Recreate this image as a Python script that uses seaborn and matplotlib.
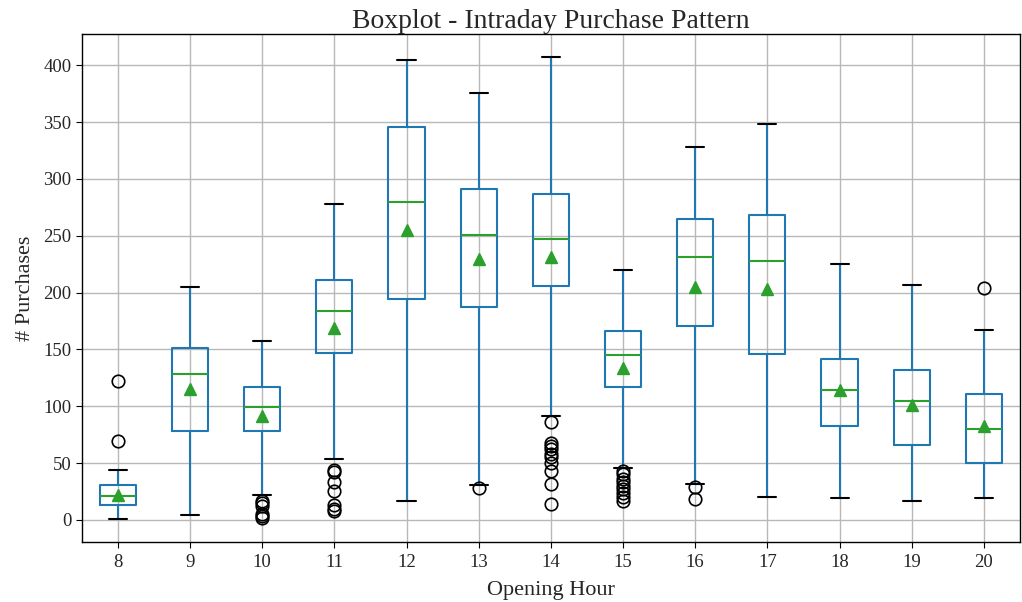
import matplotlib
matplotlib.use("Agg")
import matplotlib.pyplot as plt
import seaborn as sns

hours = [8, 9, 10, 11, 12, 13, 14, 15, 16, 17, 18, 19, 20]
whislo = [1, 4, 22, 54, 17, 31, 91, 46, 32, 20, 19, 17, 19]
q1 = [13, 78, 78, 147, 194, 187, 206, 117, 171, 146, 83, 66, 50]
median = [21, 128, 99, 184, 280, 251, 247, 145, 231, 228, 114, 105, 80]
q3 = [31, 151, 117, 211, 346, 291, 287, 166, 265, 268, 142, 132, 111]
whishi = [44, 205, 157, 278, 405, 376, 407, 220, 328, 348, 225, 207, 167]
mean = [22, 115, 91, 169, 255, 230, 231, 134, 205, 203, 114, 101, 83]
fliers = [
    [69, 122],
    [],
    [17, 15, 12, 5, 3, 2],
    [44, 42, 33, 25, 13, 10, 8],
    [],
    [28],
    [86, 68, 65, 62, 58, 55, 50, 43, 32, 14],
    [43, 40, 36, 33, 30, 27, 24, 20, 17],
    [29, 18],
    [],
    [],
    [],
    [204],
]

sns.set_style("whitegrid", {"axes.edgecolor": "black", "grid.color": "#b0b0b0",
                            "xtick.bottom": True, "ytick.left": True})
plt.rcParams["font.family"] = ["Liberation Serif", "DejaVu Serif"]
plt.rcParams["axes.linewidth"] = 1.0

fig, ax = plt.subplots(figsize=(10.22, 6.02), dpi=100)
fig.subplots_adjust(left=0.080, right=0.998, top=0.943, bottom=0.100)

stats = []
for i, h in enumerate(hours):
    stats.append(dict(label=str(h), whislo=whislo[i], q1=q1[i], med=median[i],
                      q3=q3[i], whishi=whishi[i], mean=mean[i], fliers=fliers[i]))

blue = "#1f77b4"
green = "#2ca02c"
ax.bxp(stats, positions=range(1, len(hours) + 1), widths=0.5, showmeans=True,
       boxprops=dict(color=blue, linewidth=1.5),
       whiskerprops=dict(color=blue, linewidth=1.5),
       capprops=dict(color="black", linewidth=1.5),
       medianprops=dict(color=green, linewidth=1.5),
       meanprops=dict(marker="^", markerfacecolor=green, markeredgecolor=green, markersize=9),
       flierprops=dict(marker="o", markerfacecolor="none", markeredgecolor="black",
                       markersize=9, markeredgewidth=1.2))

ax.grid(True, color="#b8b8b8", linewidth=1.0)
ax.set_axisbelow(True)
ax.set_title("Boxplot - Intraday Purchase Pattern", fontsize=20, pad=3)
ax.set_xlabel("Opening Hour", fontsize=16, labelpad=7)
ax.set_ylabel("# Purchases", fontsize=16, labelpad=6)
ax.tick_params(axis="both", labelsize=13.5, length=4, color="black")
ax.tick_params(axis="x", pad=5)
ax.set_ylim(-19.3, 427.3)
ax.set_xlim(0.5, len(hours) + 0.5)

fig.savefig("out.png", dpi=100)
